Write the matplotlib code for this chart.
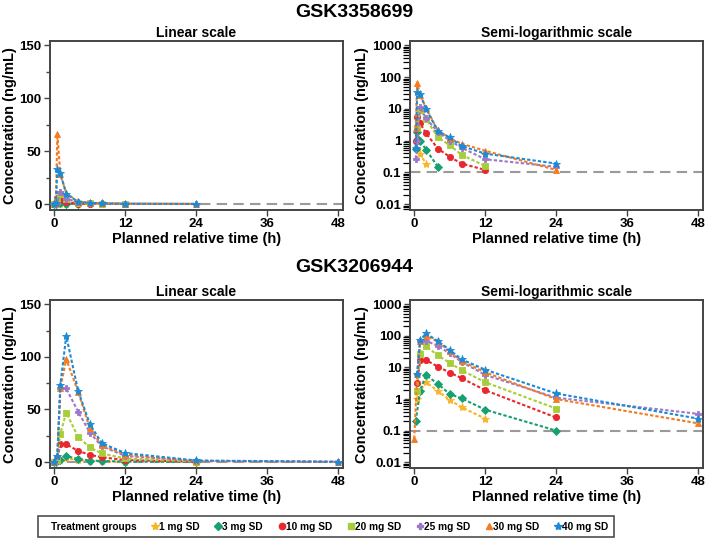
import numpy as np
import matplotlib
matplotlib.use('Agg')
import matplotlib.pyplot as plt
from matplotlib.lines import Line2D
from matplotlib.ticker import FixedLocator, FuncFormatter, LogLocator, NullFormatter

plt.rcParams['font.family'] = ['Liberation Sans Narrow', 'Liberation Sans', 'DejaVu Sans']
plt.rcParams['font.weight'] = 'bold'

nan = np.nan

# 治疗组
groups = ['1 mg SD', '3 mg SD', '10 mg SD', '20 mg SD', '25 mg SD', '30 mg SD', '40 mg SD']
colors = ['#F9B526', '#17A072', '#E8282E', '#A6CE39', '#9C78C8', '#F47B20', '#1C8AD4']
markers = ['*', 'D', 'o', 's', 'P', '^', '*']

# GSK3358699 数据
t_699 = [0, 0.25, 0.5, 1, 2, 4, 6, 8, 12, 24]
c_699_1 = [0, nan, 0.55, 0.39, 0.18, nan, nan, nan, nan, nan]
c_699_3 = [0, 0.56, 1.9, 1.0, 0.52, 0.15, nan, nan, nan, nan]
c_699_10 = [0, 1.0, 5.5, 3.5, 1.7, 0.56, 0.31, 0.19, 0.12, nan]
c_699_20 = [0, nan, 2.5, 9.5, 4.9, 1.26, 0.72, 0.36, 0.16, nan]
c_699_25 = [0, 0.27, 1.0, 11.5, 5.0, 1.9, 1.0, 0.6, 0.26, 0.15]
c_699_30 = [0, 2.5, 66, 28, 10.5, 2.1, 1.2, 0.8, 0.48, 0.12]
c_699_40 = [0, 0.6, 33, 29, 10, 2.0, 1.26, 0.68, 0.39, 0.19]

# GSK3206944 数据
t_944 = [0, 0.25, 0.5, 1, 2, 4, 6, 8, 12, 24, 48]
c_944_1 = [0, nan, 1.0, 1.8, 3.4, 1.8, 0.93, 0.55, 0.24, nan, nan]
c_944_3 = [0, 0.2, nan, 1.85, 5.7, 3.0, 1.44, 1.05, 0.46, 0.10, nan]
c_944_10 = [0, nan, 3.1, 17, 17, 10.6, 6.9, 4.6, 1.9, 0.26, nan]
c_944_20 = [0, nan, 1.8, 27, 47, 24, 14, 8.2, 3.4, 0.5, nan]
c_944_25 = [0, nan, 6, 70, 70, 48, 28, 15, 5.8, 1.1, 0.34]
c_944_30 = [0.055, nan, 6, 70, 98, 67, 32, 16, 7, 1.0, 0.17]
c_944_40 = [0, nan, 6, 73, 120, 68, 36, 18, 8.5, 1.5, 0.24]

data_699 = [c_699_1, c_699_3, c_699_10, c_699_20, c_699_25, c_699_30, c_699_40]
data_944 = [c_944_1, c_944_3, c_944_10, c_944_20, c_944_25, c_944_30, c_944_40]

xticks = [0, 12, 24, 36, 48]
frame = '#444444'

fig = plt.figure(figsize=(7.09, 5.43), dpi=100)

W = 0.413
pos = {
    'tl': [0.0705, 0.613, W, 0.311],
    'tr': [0.578, 0.613, W, 0.311],
    'bl': [0.0705, 0.138, W, 0.309],
    'br': [0.578, 0.138, W, 0.309],
}


def draw(ax, t, data, log):
    for vals, col, mk in zip(data, colors, markers):
        x = np.array(t, dtype=float)
        y = np.array(vals, dtype=float)
        ok = ~np.isnan(y)
        if log:
            ok &= y > 0
        ms = 6 if mk == '*' else 4.5
        if mk == 'D':
            ms = 3.8
        ax.plot(x[ok], y[ok], color=col, marker=mk, markersize=ms,
                linestyle=(0, (1.6, 1.0)), linewidth=1.5, markeredgewidth=0.6,
                markeredgecolor=col, zorder=3)
    ax.set_xlim(-0.75, 48.8)
    ax.set_xticks(xticks)
    if log:
        ax.set_yscale('log')
        ax.set_ylim(0.0065, 1340)
        ax.axhline(0.1, color='#9a9a9a', linestyle=(0, (5, 3)), linewidth=1.5, zorder=2)
        ax.yaxis.set_major_locator(FixedLocator([0.01, 0.1, 1, 10, 100, 1000]))
        ax.yaxis.set_major_formatter(FuncFormatter(lambda v, p: '%g' % v))
        ax.yaxis.set_minor_locator(LogLocator(base=10, subs=np.arange(2, 10), numticks=20))
        ax.yaxis.set_minor_formatter(NullFormatter())
        ax.tick_params(axis='y', which='minor', length=5, width=0.9, color='black')
    else:
        ax.set_ylim(-5.7, 153.8)
        ax.axhline(0, color='#9a9a9a', linestyle=(0, (5, 3)), linewidth=1.5, zorder=2)
        ax.set_yticks([0, 50, 100, 150])
        ax.set_yticks([25, 75, 125], minor=True)
        ax.tick_params(axis='y', which='minor', length=3, width=1, color=frame)
    ax.tick_params(axis='both', which='major', length=4, width=1, color=frame,
                   labelsize=9.5, pad=2)
    ax.tick_params(top=False, right=False)
    for s in ax.spines.values():
        s.set_color(frame)
        s.set_linewidth(1.4)
    ax.set_xlabel('Planned relative time (h)', fontsize=10.5, fontweight='bold', labelpad=1)
    ax.set_ylabel('Concentration (ng/mL)', fontsize=10.5, fontweight='bold', labelpad=2)
    ax.set_title('Semi-logarithmic scale' if log else 'Linear scale',
                 fontsize=10, fontweight='bold', pad=3)


ax1 = fig.add_axes(pos['tl'])
draw(ax1, t_699, data_699, False)
ax2 = fig.add_axes(pos['tr'])
draw(ax2, t_699, data_699, True)
ax3 = fig.add_axes(pos['bl'])
draw(ax3, t_944, data_944, False)
ax4 = fig.add_axes(pos['br'])
draw(ax4, t_944, data_944, True)

fig.text(0.5, 0.977, 'GSK3358699', ha='center', va='center', fontsize=14, fontweight='bold')
fig.text(0.5, 0.507, 'GSK3206944', ha='center', va='center', fontsize=14, fontweight='bold')

# 图例
handles = [Line2D([], [], linestyle='none', marker='none')]
labels = ['Treatment groups']
for g, col, mk in zip(groups, colors, markers):
    handles.append(Line2D([], [], linestyle='none', marker=mk, color=col,
                          markersize=6 if mk == '*' else 4.5))
    labels.append(g)
leg = fig.legend(handles, labels, ncol=8, loc='center', bbox_to_anchor=(0.46, 0.03),
                 frameon=True, fancybox=False, fontsize=7.3, handlelength=0.5,
                 handletextpad=0.15, columnspacing=1.6, borderpad=0.55)
leg.get_frame().set_edgecolor('#222222')
leg.get_frame().set_linewidth(1.2)

plt.savefig('out.png', dpi=100)
